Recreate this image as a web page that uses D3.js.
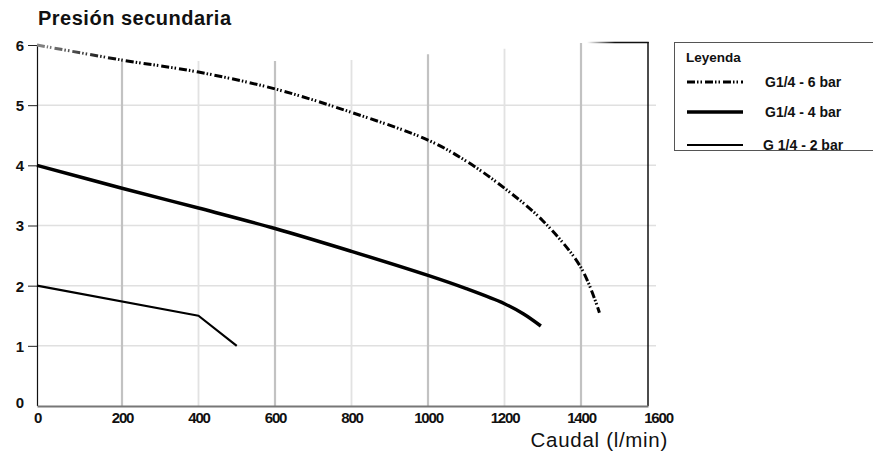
<!DOCTYPE html>
<html>
<head>
<meta charset="utf-8">
<script src="https://cdn.jsdelivr.net/npm/d3@7"></script>
<style>
  body { margin: 0; background: #fff; }
  text { font-family: "Liberation Sans", Arial, sans-serif; fill: #111; }
</style>
</head>
<body>
<div class="chart"></div>
<script>
var svgWidth = 873;
var svgHeight = 454;

// data
var xTicks = [0, 200, 400, 600, 800, 1000, 1200, 1400, 1600];
var yTicks = [0, 1, 2, 3, 4, 5, 6];

var flow6 = [0, 200, 400, 600, 800, 1000, 1100, 1200, 1300, 1400, 1455];
var pres6 = [6.0, 5.75, 5.55, 5.27, 4.88, 4.42, 4.07, 3.62, 3.08, 2.3, 1.55];

var flow4 = [0, 200, 400, 600, 800, 1000, 1100, 1200, 1250, 1295];
var pres4 = [4.0, 3.62, 3.29, 2.95, 2.57, 2.17, 1.95, 1.70, 1.53, 1.33];

var flow2 = [0, 400, 500];
var pres2 = [2.0, 1.5, 1.0];

var legendLabels = ["G1/4 - 6 bar", "G1/4 - 4 bar", "G 1/4 - 2 bar"];

var svg = d3.select(".chart")
    .append("svg")
    .attr("width", svgWidth)
    .attr("height", svgHeight);

// the original axis is not quite linear near zero
var x = d3.scaleLinear()
    .domain([0, 200, 1400, 1600])
    .range([37, 122, 581, 648]);

var y = d3.scaleLinear()
    .domain([0, 6])
    .range([406, 45]);

var defs = svg.append("defs");
var g6 = defs.append("linearGradient")
    .attr("id", "fade6")
    .attr("gradientUnits", "userSpaceOnUse")
    .attr("x1", x(0)).attr("x2", x(200)).attr("y1", 0).attr("y2", 0);
g6.append("stop").attr("offset", 0).attr("stop-color", "#888");
g6.append("stop").attr("offset", 1).attr("stop-color", "#000");

var gTop = defs.append("linearGradient")
    .attr("id", "fadeTop")
    .attr("gradientUnits", "userSpaceOnUse")
    .attr("x1", 587).attr("x2", 615).attr("y1", 0).attr("y2", 0);
gTop.append("stop").attr("offset", 0).attr("stop-color", "#fff");
gTop.append("stop").attr("offset", 1).attr("stop-color", "#111");

// grid
var gridTop = d3.scaleLinear().domain([800, 1400]).range([60, 43]).clamp(true);

svg.append("g").selectAll("line")
    .data(yTicks.filter(d => d > 0 && d < 6))
    .enter().append("line")
    .attr("x1", x(0)).attr("x2", x(1600) + 8)
    .attr("y1", d => y(d)).attr("y2", d => y(d))
    .attr("stroke", "#e0e0e0")
    .attr("stroke-width", 1.5);

svg.append("g").selectAll("line")
    .data(xTicks.filter(d => d > 0 && d < 1600))
    .enter().append("line")
    .attr("x1", d => x(d)).attr("x2", d => x(d))
    .attr("y1", d => d <= 600 ? 61 : gridTop(d))
    .attr("y2", y(0))
    .attr("stroke", (d, i) => i % 2 == 0 ? "#c2c2c2" : "#e2e2e2")
    .attr("stroke-width", (d, i) => i % 2 == 0 ? 2.2 : 1.8);

// frame
svg.append("line")
    .attr("x1", x(1600)).attr("x2", x(1600))
    .attr("y1", 42).attr("y2", y(0))
    .attr("stroke", "#111").attr("stroke-width", 1.5);
svg.append("line")
    .attr("x1", 587).attr("x2", x(1600) + 0.75)
    .attr("y1", 42.5).attr("y2", 42.5)
    .attr("stroke", "url(#fadeTop)").attr("stroke-width", 1.5);

// axes
var leftAxis = d3.axisLeft(y).tickValues(yTicks).tickFormat(d3.format("d")).tickSize(9).tickPadding(4);
var yAxis = svg.append("g")
    .attr("transform", `translate(${x(0)}, 0)`)
    .call(leftAxis);
yAxis.select(".domain").attr("stroke", "#111").attr("stroke-width", 1.2)
    .attr("d", `M0.5,${y(6)}V${y(0)}`);
yAxis.selectAll(".tick line").attr("stroke", "#222");
yAxis.selectAll(".tick line").filter(d => d == 0).remove();
yAxis.selectAll(".tick text")
    .style("font-family", "Liberation Sans, Arial, sans-serif")
    .style("font-size", "15px")
    .style("font-weight", "bold")
    .attr("fill", "#111")
    .attr("x", -13)
    .attr("dy", "0.36em");
yAxis.selectAll(".tick text").filter(d => d == 0).attr("dy", "0.1em");

var bottomAxis = d3.axisBottom(x).tickValues(xTicks).tickFormat(d3.format("d")).tickSize(0).tickPadding(6);
var xAxis = svg.append("g")
    .attr("transform", `translate(0, ${y(0)})`)
    .call(bottomAxis);
xAxis.select(".domain").attr("stroke", "#777").attr("stroke-width", 2);
xAxis.selectAll(".tick text")
    .style("font-family", "Liberation Sans, Arial, sans-serif")
    .style("font-size", "15px")
    .style("font-weight", "bold")
    .style("letter-spacing", "-1.2px")
    .attr("fill", "#111");
xAxis.selectAll(".tick text").filter(d => d == 1600).attr("dx", "10px");

// curves
var line = d3.line()
    .x(d => x(d[0]))
    .y(d => y(d[1]));

svg.append("path")
    .datum(d3.zip(flow6, pres6))
    .attr("fill", "none")
    .attr("stroke", "url(#fade6)")
    .attr("stroke-width", 3)
    .attr("stroke-dasharray", "8,2,1.5,2,1.5,3")
    .attr("d", line.curve(d3.curveCatmullRom));

svg.append("path")
    .datum(d3.zip(flow4, pres4))
    .attr("fill", "none")
    .attr("stroke", "#000")
    .attr("stroke-width", 3.5)
    .attr("d", line.curve(d3.curveCatmullRom));

svg.append("path")
    .datum(d3.zip(flow2, pres2))
    .attr("fill", "none")
    .attr("stroke", "#000")
    .attr("stroke-width", 2.2)
    .attr("stroke-linejoin", "round")
    .attr("d", line.curve(d3.curveLinear));

// titles
svg.append("text")
    .attr("x", 38)
    .attr("y", 25)
    .style("font-size", "20px")
    .style("font-weight", "bold")
    .style("letter-spacing", "0.5px")
    .attr("fill", "#222")
    .text("Presión secundaria");

svg.append("text")
    .attr("x", 668)
    .attr("y", 447)
    .attr("text-anchor", "end")
    .style("font-size", "20.5px")
    .style("letter-spacing", "0.7px")
    .attr("fill", "#222")
    .text("Caudal (l/min)");

// legend
var legend = svg.append("g");
legend.append("rect")
    .attr("x", 674.5).attr("y", 42.5)
    .attr("width", 220).attr("height", 108)
    .attr("fill", "#fff")
    .attr("stroke", "#555")
    .attr("stroke-width", 1);
legend.append("text")
    .attr("x", 686).attr("y", 62)
    .style("font-size", "13.5px")
    .style("font-weight", "bold")
    .text("Leyenda");

var legendStyles = [
    { w: 3, dash: "8,2,1.5,2,1.5,3" },
    { w: 3.5, dash: null },
    { w: 2.2, dash: null }
];
var legendY = [82, 112, 145];

legend.selectAll(".sample")
    .data(legendLabels)
    .enter().append("line")
    .attr("x1", 687).attr("x2", 743)
    .attr("y1", (d, i) => legendY[i]).attr("y2", (d, i) => legendY[i])
    .attr("stroke", "#000")
    .attr("stroke-width", (d, i) => legendStyles[i].w)
    .attr("stroke-dasharray", (d, i) => legendStyles[i].dash);

legend.selectAll(".label")
    .data(legendLabels)
    .enter().append("text")
    .attr("x", (d, i) => i == 2 ? 763 : 765)
    .attr("y", (d, i) => legendY[i] + 5)
    .style("font-size", "14px")
    .style("font-weight", "bold")
    .text(d => d);
</script>
</body>
</html>
